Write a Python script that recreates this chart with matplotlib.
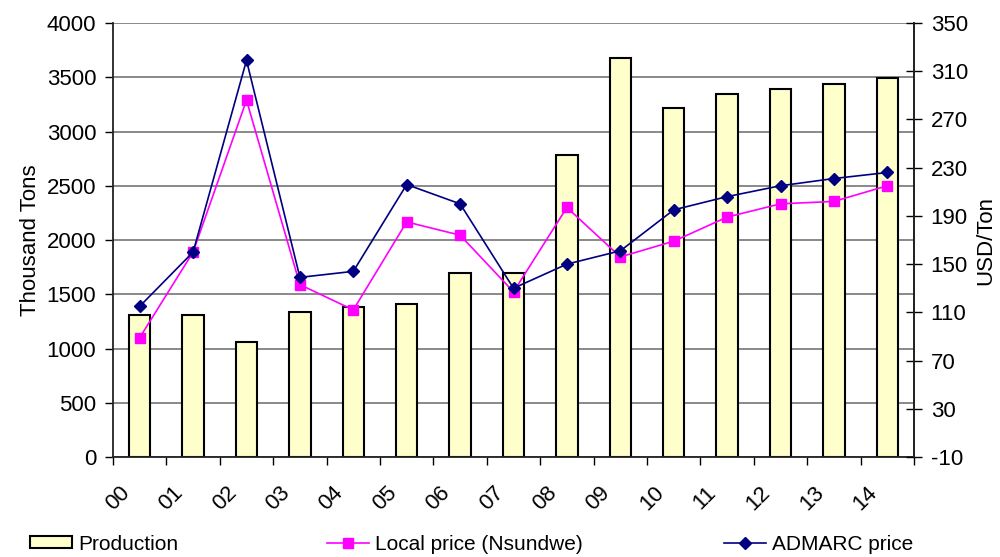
import matplotlib.pyplot as plt
import matplotlib.transforms as mtransforms
from matplotlib.patches import Patch
from matplotlib.lines import Line2D
import numpy as np

plt.rcParams['font.family'] = ['Liberation Sans', 'DejaVu Sans']
plt.rcParams['axes.unicode_minus'] = False

# Годы (последние две цифры)
years = ['00', '01', '02', '03', '04', '05', '06', '07', '08', '09', '10', '11', '12', '13', '14']
# Производство, тыс. тонн
production = [1310, 1310, 1060, 1340, 1385, 1410, 1695, 1695, 2780, 3675, 3215, 3350, 3390, 3440, 3495]
# Цены, USD/тонна
local_price = [89, 160, 286, 133, 112, 185, 174, 127, 197, 156, 169, 189, 200, 202, 215]
admarc_price = [115, 160, 319, 139, 144, 216, 200, 130, 150, 161, 195, 206, 215, 221, 226]

fs = 16
fig = plt.figure(figsize=(10, 5.57), dpi=100)
ax = fig.add_axes([0.113, 0.1795, 0.801, 0.7792])

x = np.arange(len(years))
ax.bar(x, production, width=0.4, color='#FFFFCC', edgecolor='black', linewidth=1.5, zorder=2)
ax.set_xlim(-0.5, len(years) - 0.5)
ax.set_ylim(0, 4000)
ax.set_yticks(range(0, 4001, 500))
ax.set_axisbelow(True)
ax.grid(axis='y', color='#808080', linewidth=1.3, zorder=0)
ax.set_ylabel('Thousand Tons', fontsize=fs, labelpad=4)
ax.tick_params(axis='y', labelsize=fs, direction='out', length=6, width=1, pad=6)

# Засечки на границах категорий, подписи - по центрам, под углом 45
ax.set_xticks(np.arange(-0.5, len(years), 1))
ax.set_xticklabels([])
ax.tick_params(axis='x', direction='out', length=6, width=1)
offset = mtransforms.ScaledTranslation(-22 / 100, -41 / 100, fig.dpi_scale_trans)
trans = mtransforms.blended_transform_factory(ax.transData, ax.transAxes) + offset
for i, lab in enumerate(years):
    ax.text(i, 0, lab, transform=trans, rotation=45, ha='center', va='center', fontsize=fs)

for side in ['left', 'bottom', 'right']:
    ax.spines[side].set_linewidth(1.3)
    ax.spines[side].set_color('#222222')
ax.spines['top'].set_visible(False)

ax2 = ax.twinx()
ax2.plot(x, local_price, color='#FF00FF', linewidth=1.2, marker='s', markersize=6.5, zorder=3)
ax2.plot(x, admarc_price, color='#000080', linewidth=1.2, marker='D', markersize=6, zorder=4)
ax2.set_ylim(-10, 350)
ax2.set_yticks(range(-10, 351, 40))
ax2.tick_params(axis='y', labelsize=fs, direction='inout', length=12, width=1, pad=6)
ax2.set_ylabel('USD/Ton', fontsize=fs, labelpad=5)
for side in ['left', 'bottom', 'top']:
    ax2.spines[side].set_visible(False)
ax2.spines['right'].set_linewidth(1.3)
ax2.spines['right'].set_color('#222222')

# Легенда - три отдельных элемента внизу
leg_kw = dict(frameon=False, fontsize=15, handlelength=2.0, handleheight=0.5,
              handletextpad=0.3, borderpad=0, borderaxespad=0, loc='lower left')
h1 = Patch(facecolor='#FFFFCC', edgecolor='black', linewidth=1.5)
h2 = Line2D([], [], color='#FF00FF', linewidth=1.2, marker='s', markersize=6.5)
h3 = Line2D([], [], color='#000080', linewidth=1.2, marker='D', markersize=6)
fig.legend([h1], ['Production'], bbox_to_anchor=(0.03, 0.006), **leg_kw)
fig.legend([h2], ['Local price (Nsundwe)'], bbox_to_anchor=(0.327, 0.006), **leg_kw)
fig.legend([h3], ['ADMARC price'], bbox_to_anchor=(0.724, 0.006), **leg_kw)

fig.savefig('out.png', dpi=100)
